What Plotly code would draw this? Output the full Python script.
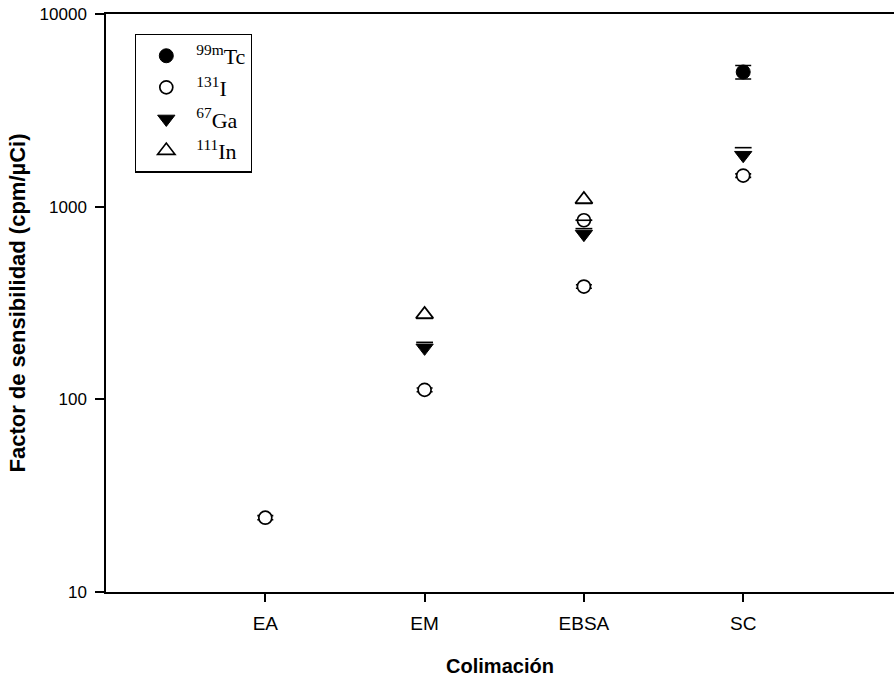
import plotly.graph_objects as go

# Collimator categories on the x axis
categories = ["EA", "EM", "EBSA", "SC"]

# 99mTc sensitivity (cpm/uCi) and error
tc_x = ["SC"]
tc_y = [5000]
tc_err = [400]

# 131I sensitivity and error
i131_x = ["EA", "EM", "EBSA", "EBSA", "SC"]
i131_y = [24.3, 112, 850, 385, 1450]
i131_err = [0.6, 2.5, 0, 8, 30]

# 67Ga sensitivity and upper error
ga_x = ["EM", "EBSA", "SC"]
ga_y = [185, 720, 1850]
ga_err_up = [12.6, 49, 174]

# 111In sensitivity and lower error
in_x = ["EM", "EBSA"]
in_y = [276, 1090]
in_err_dn = [13, 51]

y_tickvals = [10, 100, 1000, 10000]
y_ticktext = ["10", "100", "1000", "10000"]

BLACK = "#000000"
fig = go.Figure()

# one-sided caps drawn as horizontal line markers
fig.add_trace(go.Scatter(
    x=ga_x, y=[v + e for v, e in zip(ga_y, ga_err_up)], mode="markers",
    marker=dict(symbol="line-ew", size=12, line=dict(color=BLACK, width=1.6)),
    showlegend=False, hoverinfo="skip"))
fig.add_trace(go.Scatter(
    x=in_x, y=[v - e for v, e in zip(in_y, in_err_dn)], mode="markers",
    marker=dict(symbol="line-ew", size=12, line=dict(color=BLACK, width=1.6)),
    showlegend=False, hoverinfo="skip"))

fig.add_trace(go.Scatter(
    x=tc_x, y=tc_y, mode="markers", name="<sup>99m</sup>Tc",
    marker=dict(symbol="circle", size=14, color=BLACK, line=dict(color=BLACK, width=1)),
    error_y=dict(type="data", array=tc_err, visible=True, color=BLACK, thickness=1.6, width=8)))
fig.add_trace(go.Scatter(
    x=i131_x, y=i131_y, mode="markers", name="<sup>131</sup>I",
    marker=dict(symbol="circle", size=13, color="white", line=dict(color=BLACK, width=1.7)),
    error_y=dict(type="data", array=i131_err, visible=True, color=BLACK, thickness=1.6, width=8)))
fig.add_trace(go.Scatter(
    x=ga_x, y=ga_y, mode="markers", name="<sup>67</sup>Ga",
    marker=dict(symbol="triangle-down", size=15, color=BLACK, line=dict(color=BLACK, width=1))))
fig.add_trace(go.Scatter(
    x=in_x, y=in_y, mode="markers", name="<sup>111</sup>In",
    marker=dict(symbol="triangle-up", size=15, color="white", line=dict(color=BLACK, width=1.7))))

# 131I point whose cap line crosses the marker
cross = [k for k, e in enumerate(i131_err) if e == 0]
fig.add_trace(go.Scatter(
    x=[i131_x[k] for k in cross], y=[i131_y[k] for k in cross], mode="markers",
    marker=dict(symbol="line-ew", size=12, line=dict(color=BLACK, width=1.6)),
    showlegend=False, hoverinfo="skip"))

plot_left, plot_right = 106, 894
cat_step = 159.3

fig.update_layout(
    width=894, height=681,
    margin=dict(l=plot_left, r=0, t=14, b=89),
    paper_bgcolor="white", plot_bgcolor="white",
    font=dict(family="Arial, Liberation Sans, sans-serif", color=BLACK),
    showlegend=True,
    legend=dict(
        x=(135 - plot_left) / (plot_right - plot_left), y=0.966,
        xanchor="left", yanchor="top",
        bgcolor="white", bordercolor=BLACK, borderwidth=1.3,
        font=dict(family="Liberation Serif, Times New Roman, serif", size=22),
        itemwidth=50,
    ),
    xaxis=dict(
        type="category", categoryorder="array", categoryarray=categories,
        range=[-1, (plot_right - plot_left) / cat_step - 1],
        showgrid=False, zeroline=False,
        showline=True, linecolor=BLACK, linewidth=1.5, mirror=True,
        ticks="outside", ticklen=8, tickwidth=1.5, tickcolor=BLACK,
        tickfont=dict(size=19), ticklabelstandoff=5,
        title=dict(text="<b>Colimación</b>", font=dict(size=20), standoff=26),
    ),
    yaxis=dict(
        type="log", range=[1, 4],
        tickvals=y_tickvals, ticktext=y_ticktext,
        showgrid=False, zeroline=False,
        showline=True, linecolor=BLACK, linewidth=1.5,
        ticks="outside", ticklen=9, tickwidth=1.5, tickcolor=BLACK,
        tickfont=dict(size=17), ticklabelstandoff=5,
        title=dict(text="<b>Factor de sensibilidad (cpm/µCi)</b>", font=dict(size=22), standoff=8),
    ),
)

fig.write_html("out.html")
